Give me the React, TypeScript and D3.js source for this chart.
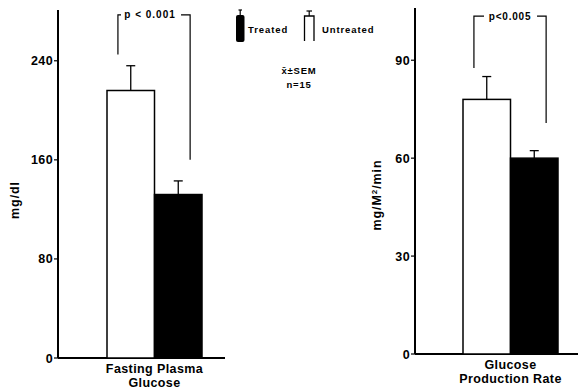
import React from "react";
import * as d3 from "d3";

const groups = ["Untreated", "Treated"];
const fpgMeans = [216, 132];
const fpgSem = [20, 11];
const fpgTicks = [0, 80, 160, 240];
const gprMeans = [78, 60];
const gprSem = [7, 2.3];
const gprTicks = [0, 30, 60, 90];

const FONT = "'Liberation Sans', Arial, Helvetica, sans-serif";

type PanelProps = {
  means: number[];
  sems: number[];
  ticks: number[];
  domainMax: number;
  yRange: [number, number];
  axisX: number;
  barRange: [number, number];
  baselineEnd: number;
  pText: string;
  pSpacing: number;
  pShift: number;
  bracketTop: number;
  bracketLegs: [number, number];
  textGap: [number, number];
  xLabel: string[];
  yLabel: React.ReactNode;
  yLabelX: number;
  yLabelY: number;
};

function Panel(p: PanelProps) {
  const y = d3.scaleLinear().domain([0, p.domainMax]).range(p.yRange);
  const x = d3.scaleBand<string>().domain(groups).range(p.barRange).paddingInner(0);
  const bw = x.bandwidth();
  const y0 = y(0);
  const lx = (x("Untreated") as number) + bw * 0.23;
  const rx = (x("Treated") as number) + bw * 0.75;
  const by = y(p.bracketTop);
  const cx = (lx + rx) / 2;
  return (
    <g>
      <line x1={p.axisX} x2={p.axisX} y1={y0} y2={y(p.domainMax)} stroke="#000" strokeWidth={2} />
      <line x1={p.axisX} x2={p.baselineEnd} y1={y0} y2={y0} stroke="#000" strokeWidth={2} />
      {p.ticks.map((t) => (
        <g key={t}>
          <line x1={p.axisX - 4} x2={p.axisX} y1={y(t)} y2={y(t)} stroke="#000" strokeWidth={1.2} />
          <text x={p.axisX - 5} y={y(t)} dy="0.36em" textAnchor="end" fontFamily={FONT} fontWeight="bold" fontSize={12.5} letterSpacing={0.4}>
            {t}
          </text>
        </g>
      ))}
      {groups.map((g, i) => {
        const bx = x(g) as number;
        const top = y(p.means[i]);
        const eTop = y(p.means[i] + p.sems[i]);
        const mx = bx + bw / 2;
        return (
          <g key={g}>
            <rect
              x={bx}
              y={top}
              width={bw}
              height={y0 - top}
              fill={g === "Treated" ? "#000" : "#fff"}
              stroke="#000"
              strokeWidth={1.5}
            />
            <line x1={mx} x2={mx} y1={top} y2={eTop} stroke="#000" strokeWidth={1.3} />
            <line x1={mx - 4.5} x2={mx + 4.5} y1={eTop} y2={eTop} stroke="#000" strokeWidth={1.3} />
          </g>
        );
      })}
      <path
        d={`M${lx},${y(p.bracketLegs[0])}V${by}H${cx - p.textGap[0]}M${cx + p.textGap[1]},${by}H${rx}V${y(p.bracketLegs[1])}`}
        fill="none"
        stroke="#000"
        strokeWidth={1.2}
      />
      <text x={cx + p.pShift} y={by} dy="0.35em" textAnchor="middle" fontFamily={FONT} fontWeight="bold" fontSize={10} letterSpacing={p.pSpacing}>
        {p.pText}
      </text>
      {p.xLabel.map((l, i) => (
        <text
          key={l}
          x={(p.barRange[0] + p.barRange[1]) / 2}
          y={y0 + 15 + i * 13.5}
          textAnchor="middle"
          fontFamily={FONT}
          fontWeight="bold"
          fontSize={12.5}
          letterSpacing={0.4}
        >
          {l}
        </text>
      ))}
      <text
        transform={`translate(${p.yLabelX},${p.yLabelY}) rotate(-90)`}
        textAnchor="middle"
        fontFamily={FONT}
        fontWeight="bold"
        fontSize={12.5}
        letterSpacing={0.9}
      >
        {p.yLabel}
      </text>
    </g>
  );
}

export default function App() {
  return (
    <svg
      width={578}
      height={390}
      viewBox="0 0 578 390"
      style={{ position: "absolute", left: 0, top: 0, background: "#fff" }}
    >
      <rect width={578} height={390} fill="#fff" />
      <Panel
        means={fpgMeans}
        sems={fpgSem}
        ticks={fpgTicks}
        domainMax={281}
        yRange={[358, 10]}
        axisX={58}
        barRange={[107, 202]}
        baselineEnd={225}
        pText="p < 0.001"
        pSpacing={1}
        pShift={-4}
        bracketTop={277}
        bracketLegs={[245, 160]}
        textGap={[33, 27]}
        xLabel={["Fasting Plasma", "Glucose"]}
        yLabel="mg/dl"
        yLabelX={19}
        yLabelY={200}
      />
      <Panel
        means={gprMeans}
        sems={gprSem}
        ticks={gprTicks}
        domainMax={106}
        yRange={[354, 8]}
        axisX={415}
        barRange={[463, 558]}
        baselineEnd={578}
        pText="p<0.005"
        pSpacing={0.8}
        pShift={0}
        bracketTop={103.5}
        bracketLegs={[87.6, 70.8]}
        textGap={[26, 27]}
        xLabel={["Glucose", "Production Rate"]}
        yLabel={
          <>
            mg/M<tspan dy="-4" fontSize={8}>2</tspan>
            <tspan dy="4">/min</tspan>
          </>
        }
        yLabelX={381}
        yLabelY={195}
      />
      <g>
        <rect x={236} y={15} width={8.5} height={27} rx={2} fill="#000" />
        <line x1={240.2} x2={240.2} y1={10} y2={15} stroke="#000" strokeWidth={1.2} />
        <line x1={238.5} x2={242} y1={10} y2={10} stroke="#000" strokeWidth={1.2} />
        <text x={248} y={33} fontFamily={FONT} fontWeight="bold" fontSize={9.5} letterSpacing={0.9}>Treated</text>
        <path d="M304.5,41V16H314V41" fill="none" stroke="#000" strokeWidth={1.3} />
        <line x1={309.2} x2={309.2} y1={11} y2={16} stroke="#000" strokeWidth={1.2} />
        <line x1={306.5} x2={312} y1={11} y2={11} stroke="#000" strokeWidth={1.2} />
        <text x={322} y={33} fontFamily={FONT} fontWeight="bold" fontSize={9.5} letterSpacing={0.9}>Untreated</text>
        <text x={299} y={74} textAnchor="middle" fontFamily={FONT} fontWeight="bold" fontSize={9.5} letterSpacing={0.8}>x̄±SEM</text>
        <text x={299} y={88} textAnchor="middle" fontFamily={FONT} fontWeight="bold" fontSize={9.5} letterSpacing={0.8}>n=15</text>
      </g>
    </svg>
  );
}
